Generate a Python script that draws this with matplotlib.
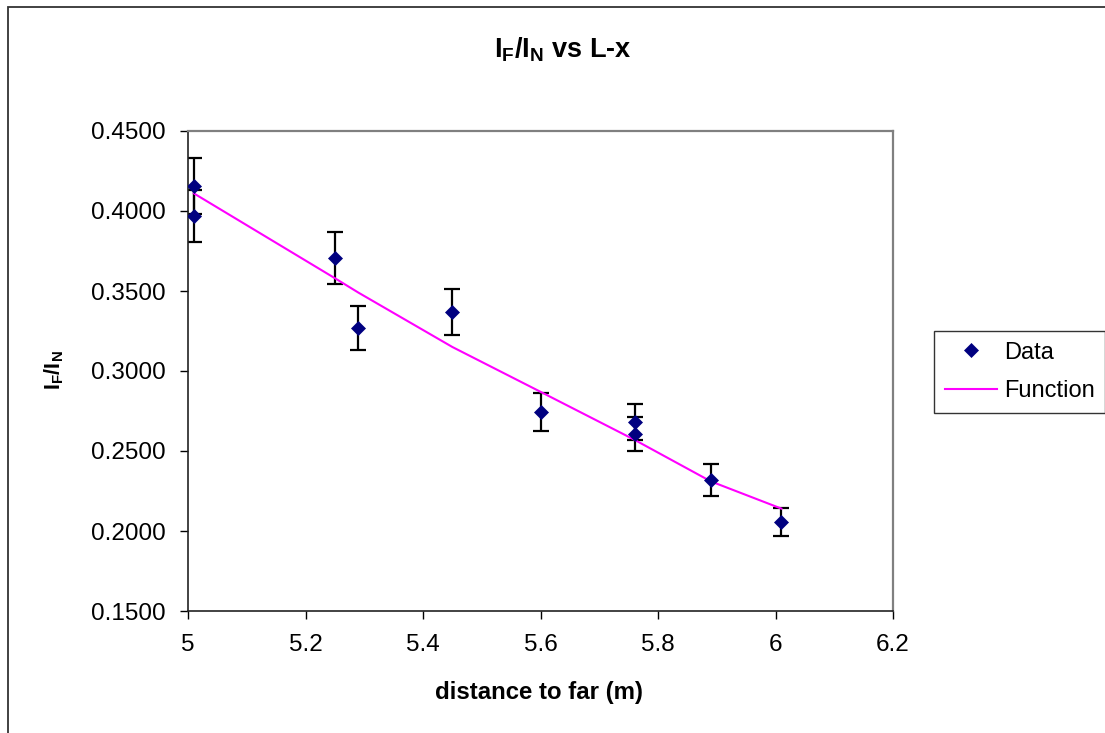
import matplotlib
matplotlib.use("Agg")
import matplotlib.pyplot as plt
from matplotlib.patches import Rectangle

# Data
x_data = [5.01, 5.01, 5.25, 5.29, 5.45, 5.60, 5.76, 5.76, 5.89, 6.01]
y_data = [0.4156, 0.3969, 0.3708, 0.3271, 0.3369, 0.2744, 0.2681, 0.2608, 0.2319, 0.2058]
y_err = [0.0175, 0.0163, 0.0163, 0.0138, 0.0144, 0.0119, 0.0113, 0.0106, 0.0100, 0.0088]

x_func = [5.01, 5.25, 5.29, 5.45, 5.60, 5.76, 5.89, 6.01]
y_func = [0.411, 0.358, 0.349, 0.315, 0.287, 0.257, 0.231, 0.214]

x_ticks = [5, 5.2, 5.4, 5.6, 5.8, 6, 6.2]
x_ticklabels = ["5", "5.2", "5.4", "5.6", "5.8", "6", "6.2"]
y_ticks = [0.15, 0.20, 0.25, 0.30, 0.35, 0.40, 0.45]

plt.rcParams['font.family'] = ['Liberation Sans', 'DejaVu Sans']
plt.rcParams['mathtext.fontset'] = 'custom'
plt.rcParams['mathtext.rm'] = 'Liberation Sans'
plt.rcParams['mathtext.bf'] = 'Liberation Sans:bold'
plt.rcParams['mathtext.it'] = 'Liberation Sans:italic'

W, H = 1105, 733
fig = plt.figure(figsize=(W / 100, H / 100), dpi=100)
fig.patch.set_facecolor('white')

# outer chart border
fig.patches.append(Rectangle((8 / W, -0.1), 1.2, 1 - 6.5 / H + 0.1,
                             transform=fig.transFigure, fill=False,
                             edgecolor='#333333', linewidth=1.3, clip_on=False))

ax = fig.add_axes([188 / W, 1 - 611 / H, (893 - 188) / W, (611 - 131) / H])

ax.errorbar(x_data, y_data, yerr=y_err, fmt='none', ecolor='black',
            elinewidth=1.6, capsize=5.5, capthick=1.6, zorder=2)
ax.plot(x_data, y_data, linestyle='none', marker='D', markersize=7.5,
        color='#000080', markeredgewidth=0.5, label='Data', zorder=3)
ax.plot(x_func, y_func, color='#FF00FF', linewidth=1.5, label='Function', zorder=2.5)

ax.set_xlim(5, 6.2)
ax.set_ylim(0.15, 0.45)
ax.set_xticks(x_ticks)
ax.set_xticklabels(x_ticklabels)
ax.set_yticks(y_ticks)
ax.set_yticklabels([f"{v:.4f}" for v in y_ticks])
ax.tick_params(axis='both', direction='out', length=5.8, width=1, labelsize=17.5, colors='black')
ax.tick_params(axis='x', pad=11)
ax.tick_params(axis='y', pad=10)

for s in ['left', 'bottom']:
    ax.spines[s].set_color('#222222')
    ax.spines[s].set_linewidth(1.2)
for s in ['top', 'right']:
    ax.spines[s].set_color('#808080')
    ax.spines[s].set_linewidth(1.6)

fig.text(539 / W, 1 - 692 / H, 'distance to far (m)', ha='center', va='center',
         fontsize=17.3, fontweight='bold')
fig.text(54 / W, 1 - 370 / H, r'$\mathbf{I_F/I_N}$', ha='center', va='center',
         rotation=90, fontsize=15.5)
fig.text(563 / W, 1 - 57 / H, r'$\mathbf{I_F/I_N}$ vs L-x', ha='center', va='baseline',
         fontsize=19.5, fontweight='bold')

leg = ax.legend(loc='upper left', bbox_to_anchor=(934 / W, 1 - 331 / H),
                bbox_transform=fig.transFigure, borderaxespad=0, frameon=True,
                fancybox=False, edgecolor='black', fontsize=17,
                handlelength=2.2, handletextpad=0.3, borderpad=0.45, labelspacing=0.7)
leg.get_frame().set_linewidth(1.0)

fig.savefig('out.png', dpi=100, facecolor='white')
